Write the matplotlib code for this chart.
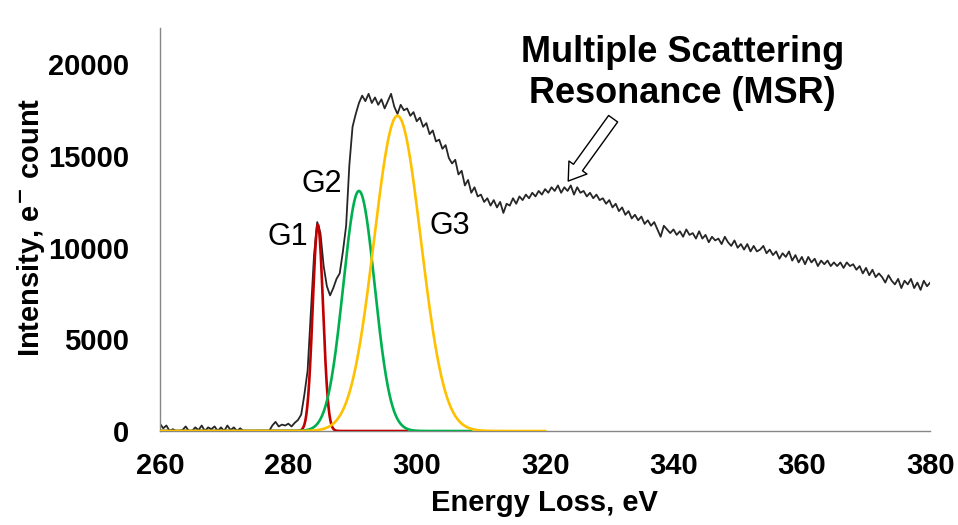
import numpy as np
import matplotlib.pyplot as plt

plt.rcParams['font.family'] = ['Liberation Sans', 'DejaVu Sans']

# energy axis of the spectrum (0.5 eV steps, 260 -> 380 eV)
energy = np.arange(260, 380.5, 0.5)

counts = [
    400, 150, 300, 0, 100, 0, 0, 50, 250, 0,           # 260.0 - 264.5
    0, 200, 50, 300, 0, 200, 100, 250, 0, 200,         # 265.0 - 269.5
    0, 300, 50, 200, 0, 150, 0, 0, -100, 0,            # 270.0 - 274.5
    -50, 0, -100, 0, 0, 300, 500, 250, 350, 300,       # 275.0 - 279.5
    400, 250, 450, 600, 900, 2000, 3300, 6500, 9600, 11400,   # 280.0 - 284.5
    10800, 9000, 7900, 7400, 7800, 8300, 8600, 9800, 11200, 14500,  # 285.0 - 289.5
    16600, 17300, 17900, 18300, 18000, 18400, 17900, 18200, 17800, 18100,  # 290.0 - 294.5
    17600, 18000, 18400, 17700, 17300, 17800, 17500, 17600, 17200, 17400,  # 295.0 - 299.5
    16900, 17100, 16600, 16800, 16200, 16400, 15800, 15900, 15400, 15600,  # 300.0 - 304.5
    14900, 14600, 14800, 14000, 14200, 13400, 13700, 13000, 13300, 12800,  # 305.0 - 309.5
    12900, 12500, 12700, 12300, 12600, 12200, 12500, 11900, 12400, 12300,  # 310.0 - 314.5
    12700, 12400, 12800, 12600, 12900, 12700, 13000, 12800, 13100, 12900,  # 315.0 - 319.5
    13200, 13000, 13300, 13100, 13400, 13000, 13300, 13100, 13400, 12900,  # 320.0 - 324.5
    13300, 13000, 13100, 12800, 13000, 12700, 12900, 12600, 12700, 12400,  # 325.0 - 329.5
    12600, 12200, 12400, 12000, 12200, 11800, 12000, 11600, 11800, 11500,  # 330.0 - 334.5
    11700, 11300, 11500, 11200, 11400, 11000, 10600, 11200, 11000, 10800,  # 335.0 - 339.5
    11000, 10700, 10900, 10600, 11000, 10700, 10800, 10500, 10900, 10500,  # 340.0 - 344.5
    10700, 10300, 10600, 10400, 10500, 10200, 10600, 10300, 10100, 10400,  # 345.0 - 349.5
    10000, 10200, 9900, 10200, 9800, 10100, 9800, 9900, 10100, 9700,       # 350.0 - 354.5
    9900, 9600, 9800, 9400, 9700, 9500, 9800, 9300, 9600, 9200,            # 355.0 - 359.5
    9500, 9100, 9500, 9200, 9400, 9000, 9300, 9100, 9300, 9000,            # 360.0 - 364.5
    9200, 9000, 9200, 8900, 9200, 9000, 9100, 8800, 9000, 8600,            # 365.0 - 369.5
    8900, 8500, 8800, 8400, 8600, 8400, 8100, 8500, 8200, 8000,            # 370.0 - 374.5
    8300, 7800, 8200, 8000, 8300, 7800, 8100, 7700, 8200, 7900,            # 375.0 - 379.5
    8100,                                                                  # 380.0
]

# gaussian components G1, G2, G3
g_names = ['G1', 'G2', 'G3']
g_center = [284.6, 291.0, 297.0]
g_height = [11250, 13100, 17200]
g_sigma = [0.8, 2.45, 3.65]
g_end = [298.5, 308.5, 320.0]
g_colors = ['#C00000', '#00B050', '#FFC000']
g_label_pos = [(279.95, 10575), (285.25, 13480), (305.2, 11180)]

fig = plt.figure(figsize=(9.58, 5.25), dpi=100)
ax = fig.add_axes([0.167, 0.179, 0.804, 0.768])

ax.plot(energy, counts, color='#262626', lw=1.3, zorder=2)

for i in range(3):
    xg = np.linspace(260, g_end[i], 800)
    yg = g_height[i] * np.exp(-0.5 * ((xg - g_center[i]) / g_sigma[i]) ** 2)
    ax.plot(xg, yg, color=g_colors[i], lw=1.9, zorder=3 + i)
    ax.text(g_label_pos[i][0], g_label_pos[i][1], g_names[i], fontsize=22,
            ha='center', va='center')

ax.text(341.35, 19530, 'Multiple Scattering\nResonance (MSR)', fontsize=26,
        fontweight='bold', ha='center', va='center', linespacing=1.2)
ax.annotate('', xy=(323.6, 13640), xytext=(330.6, 17040),
            arrowprops=dict(arrowstyle='simple,head_length=0.6,head_width=0.8,tail_width=0.4',
                            fc='white', ec='black', lw=1, mutation_scale=20,
                            shrinkA=0, shrinkB=0))

ax.set_xlim(260, 380)
ax.set_ylim(0, 22000)
ax.set_xticks([260, 280, 300, 320, 340, 360, 380])
ax.set_yticks([0, 5000, 10000, 15000, 20000])
ax.tick_params(length=0, labelsize=21)
ax.tick_params(axis='y', pad=22)
ax.tick_params(axis='x', pad=15)
for lab in ax.get_xticklabels() + ax.get_yticklabels():
    lab.set_fontweight('bold')

ax.set_xlabel('Energy Loss, eV', fontsize=21, fontweight='bold')
ax.set_ylabel(r'Intensity, e$^{\mathbf{-}}$ count', fontsize=21, fontweight='bold')
ax.xaxis.set_label_coords(0.499, -0.145)
ax.yaxis.set_label_coords(-0.147, 0.506)

for s in ['top', 'right']:
    ax.spines[s].set_visible(False)
for s in ['left', 'bottom']:
    ax.spines[s].set_color('#868686')
    ax.spines[s].set_linewidth(1)

fig.savefig('out.png', dpi=100)
